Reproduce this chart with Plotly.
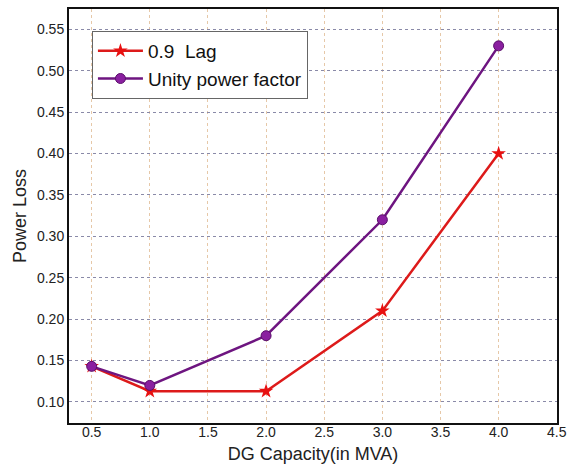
import plotly.graph_objects as go

capacity = [0.5, 1.0, 2.0, 3.0, 4.0]
loss_lag = [0.143, 0.113, 0.113, 0.21, 0.40]
loss_unity = [0.143, 0.12, 0.18, 0.32, 0.53]
x_ticks = [0.5, 1.0, 1.5, 2.0, 2.5, 3.0, 3.5, 4.0, 4.5]
y_ticks = [0.10, 0.15, 0.20, 0.25, 0.30, 0.35, 0.40, 0.45, 0.50, 0.55]

fig = go.Figure()
fig.add_trace(go.Scatter(
    x=capacity, y=loss_lag, mode="lines+markers", name="0.9  Lag",
    line=dict(color="#dd1a1a", width=2.5),
    marker=dict(symbol="star", size=11, color="#e81010"),
))
fig.add_trace(go.Scatter(
    x=capacity, y=loss_unity, mode="lines+markers", name="Unity power factor",
    line=dict(color="#6e1580", width=2.5),
    marker=dict(symbol="circle", size=10, color="#8a1fa0",
                line=dict(color="#5a0f6a", width=1)),
))

font_family = "Liberation Sans, Arial, sans-serif"
fig.update_layout(
    width=568, height=470,
    margin=dict(l=69, r=11, t=9, b=47),
    paper_bgcolor="white", plot_bgcolor="white",
    font=dict(family=font_family, color="#222", size=14),
    showlegend=True,
    legend=dict(
        x=0.047, y=0.947, xanchor="left", yanchor="top",
        bgcolor="white", bordercolor="#666", borderwidth=1,
        font=dict(size=19, color="#111"),
        tracegroupgap=0, itemwidth=45,
    ),
    xaxis=dict(
        range=[0.305, 4.502], tickvals=x_ticks,
        ticktext=[f"{v:.1f}" for v in x_ticks],
        showgrid=True, gridcolor="#e6c8a8", griddash="dot", gridwidth=1,
        showline=True, linecolor="#111", linewidth=2, mirror=True,
        ticks="", zeroline=False, ticklabelstandoff=-5,
        ticklabeloverflow="allow", automargin=False,
        tickfont=dict(size=14),
        title=dict(text="DG Capacity(in MVA)", font=dict(size=18), standoff=9),
    ),
    yaxis=dict(
        range=[0.0746, 0.5745], tickvals=y_ticks,
        ticktext=[f"{v:.2f}" for v in y_ticks],
        showgrid=True, gridcolor="#8a8aa8", griddash="dot", gridwidth=1,
        showline=True, linecolor="#111", linewidth=2, mirror=True,
        ticks="", zeroline=False, automargin=False,
        tickfont=dict(size=14),
        title=dict(text="Power Loss", font=dict(size=18), standoff=6),
    ),
)

page_js = (
    "document.documentElement.style.margin='0';"
    "document.documentElement.style.overflow='hidden';"
    "document.body.style.margin='0';"
    "document.body.style.overflow='hidden';"
)
fig.write_html("out.html", post_script=page_js,
               config={"displayModeBar": False})
